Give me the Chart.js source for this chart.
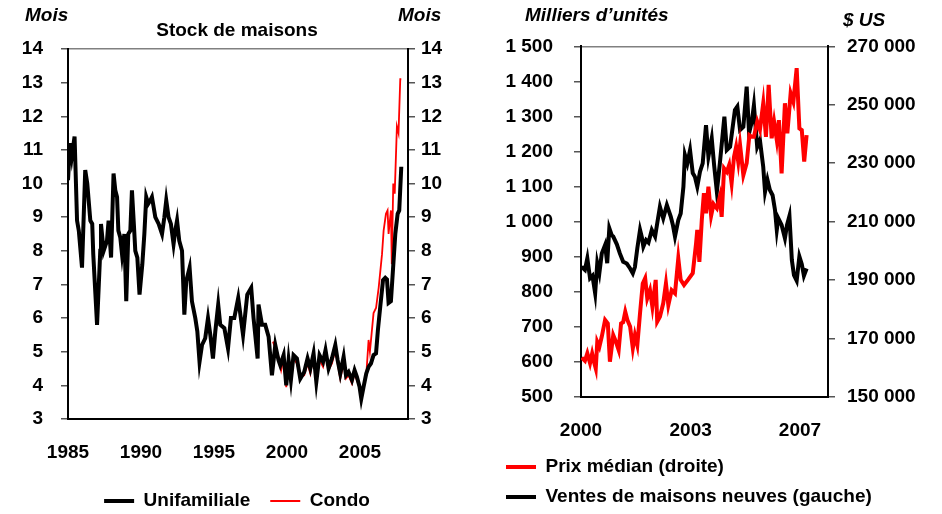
<!DOCTYPE html>
<html>
<head>
<meta charset="utf-8">
<script src="https://cdn.jsdelivr.net/npm/chart.js@4.4.0/dist/chart.umd.min.js"></script>
<style>
  body { margin: 0; background: #fff; width: 942px; height: 514px; position: relative; overflow: hidden; font-family: "Liberation Sans", Arial, sans-serif; }
  canvas { position: absolute; top: 0; }
  .unit { position: absolute; font-size: 19px; font-weight: bold; font-style: italic; color: #000; white-space: nowrap; line-height: 22px; }
</style>
</head>
<body>
<canvas id="stockChart" width="474" height="514" style="left:0"></canvas>
<canvas id="salesChart" width="468" height="514" style="left:474px"></canvas>
<div class="unit" style="left:25px; top:4px">Mois</div>
<div class="unit" style="left:398px; top:4px">Mois</div>
<div class="unit" style="left:525px; top:4px">Milliers d’unités</div>
<div class="unit" style="left:843px; top:9px">$ US</div>
<script>
// Stock de maisons (mois)
const stockYears = [1985.00, 1985.14, 1985.26, 1985.45, 1985.62, 1985.74, 1985.96, 1986.18, 1986.32, 1986.53,
  1986.66, 1986.73, 1986.99, 1987.21, 1987.26, 1987.44, 1987.67, 1987.78, 1987.95, 1988.12,
  1988.24, 1988.36, 1988.45, 1988.58, 1988.70, 1988.86, 1988.99, 1989.13, 1989.27, 1989.38,
  1989.51, 1989.61, 1989.75, 1989.90, 1990.09, 1990.23, 1990.36, 1990.50, 1990.64, 1990.75,
  1990.98, 1991.21, 1991.44, 1991.60, 1991.73, 1991.89, 1992.05, 1992.23, 1992.35, 1992.47,
  1992.62, 1992.81, 1992.97, 1993.10, 1993.33, 1993.49, 1993.72, 1993.86, 1994.01, 1994.18,
  1994.40, 1994.59, 1994.75, 1994.93, 1995.09, 1995.29, 1995.43, 1995.71, 1995.96, 1996.16,
  1996.39, 1996.66, 1996.99, 1997.28, 1997.55, 1997.71, 1997.99, 1998.05, 1998.29, 1998.51,
  1998.74, 1998.97, 1999.20, 1999.42, 1999.54, 1999.77, 1999.95, 2000.11, 2000.27, 2000.45,
  2000.68, 2000.91, 2001.18, 2001.41, 2001.60, 2001.82, 2002.01, 2002.23, 2002.47, 2002.64,
  2002.85, 2003.08, 2003.31, 2003.47, 2003.65, 2003.88, 2004.04, 2004.22, 2004.45, 2004.63,
  2004.79, 2004.97, 2005.09, 2005.25, 2005.43, 2005.59, 2005.75, 2005.93, 2006.10, 2006.23,
  2006.39, 2006.58, 2006.73, 2006.85, 2006.96, 2007.12, 2007.26, 2007.42, 2007.58, 2007.69, 2007.83];
const singleFamily = [10.1, 11.2, 10.8, 11.4, 8.9, 8.6, 7.5, 10.4, 10.0, 8.9,
  8.8, 7.9, 5.8, 8.0, 8.8, 8.0, 8.3, 8.9, 7.8, 10.3,
  9.8, 9.6, 8.6, 8.4, 7.9, 8.5, 6.5, 8.5, 8.6, 9.8,
  8.8, 8.0, 7.8, 6.7, 7.6, 8.5, 9.6, 9.4, 9.5, 9.6,
  9.0, 8.8, 8.5, 9.0, 9.5, 9.0, 8.8, 8.2, 8.6, 8.9,
  8.3, 8.0, 6.1, 7.1, 7.5, 6.5, 6.0, 5.6, 4.7, 5.2,
  5.4, 6.0, 5.5, 4.8, 5.6, 6.4, 5.8, 5.7, 5.1, 6.0,
  6.0, 6.6, 5.5, 6.7, 6.9, 6.0, 4.8, 6.4, 5.8, 5.8,
  5.45, 4.3, 5.2, 4.75, 4.6, 4.9, 4.0, 4.75, 4.16, 4.9,
  4.8, 4.2, 4.4, 4.8, 4.5, 4.95, 4.1, 4.9, 4.7, 5.05,
  4.5, 4.8, 5.2, 4.75, 4.35, 4.85, 4.3, 4.4, 4.16, 4.45,
  4.25, 3.96, 3.6, 3.96, 4.35, 4.55, 4.65, 4.9, 4.95, 5.65,
  6.34, 7.13, 7.2, 7.15, 6.45, 6.5, 7.43, 8.5, 9.1, 9.2, 10.5];
const condoYears = [1999.04, 1999.20, 1999.42, 1999.60, 1999.77, 1999.95, 2000.11, 2000.27, 2000.45, 2000.68,
  2000.91, 2001.18, 2001.41, 2001.60, 2001.82, 2002.01, 2002.23, 2002.47, 2002.64, 2002.85,
  2003.08, 2003.31, 2003.47, 2003.65, 2003.88, 2004.04, 2004.22, 2004.45, 2004.63, 2004.79,
  2004.97, 2005.09, 2005.25, 2005.43, 2005.59, 2005.68, 2005.93, 2006.10, 2006.28, 2006.51,
  2006.62, 2006.78, 2006.89, 2006.96, 2007.12, 2007.18, 2007.28, 2007.38, 2007.53, 2007.64, 2007.76, 2007.83];
const condo = [5.3, 5.1, 4.85, 4.45, 4.8, 3.95, 4.65, 4.05, 4.8, 4.65,
  4.25, 4.3, 4.65, 4.35, 4.9, 4.15, 4.75, 4.55, 4.95, 4.45,
  4.65, 5.05, 4.65, 4.2, 4.65, 4.2, 4.3, 4.05, 4.35, 4.15,
  3.95, 3.6, 4.0, 4.3, 5.35, 5.0, 6.15, 6.3, 6.9, 7.9,
  8.6, 9.1, 9.2, 8.5, 9.2, 7.6, 10.0, 9.7, 11.7, 11.5, 13.1, 13.1];
const stockTickYears = [1985, 1990, 1995, 2000, 2005];

// Ventes de maisons neuves (milliers, gauche) et prix médian ($ US, droite)
const salesYears = [2000.02, 2000.13, 2000.21, 2000.30, 2000.38, 2000.47, 2000.54, 2000.61, 2000.69, 2000.80,
  2000.87, 2000.94, 2001.02, 2001.07, 2001.19, 2001.29, 2001.40, 2001.52, 2001.63, 2001.72,
  2001.79, 2001.87, 2001.96, 2002.02, 2002.07, 2002.16, 2002.24, 2002.35, 2002.46, 2002.54,
  2002.62, 2002.73, 2002.85, 2002.98, 2003.05, 2003.12, 2003.23, 2003.31, 2003.40, 2003.45,
  2003.53, 2003.62, 2003.71, 2003.78, 2003.86, 2003.95, 2004.04, 2004.15, 2004.23, 2004.34,
  2004.42, 2004.51, 2004.61, 2004.76, 2004.84, 2004.95, 2005.11, 2005.19, 2005.28, 2005.39,
  2005.50, 2005.58, 2005.67, 2005.74, 2005.85, 2005.94, 2006.05, 2006.11, 2006.19, 2006.27,
  2006.36, 2006.44, 2006.50, 2006.55, 2006.66, 2006.77, 2006.84, 2006.92, 2007.00, 2007.07,
  2007.16, 2007.25, 2007.33, 2007.40, 2007.49];
const newHomeSales = [871, 862, 895, 838, 845, 795, 881, 853, 909, 933,
  881, 981, 961, 957, 935, 909, 885, 880, 866, 852,
  870, 924, 976, 955, 928, 947, 940, 976, 957, 1000,
  1042, 1009, 1047, 1014, 990, 957, 1004, 1023, 1099, 1190,
  1166, 1204, 1138, 1128, 1099, 1142, 1166, 1275, 1185, 1237,
  1160, 1085, 1166, 1299, 1204, 1213, 1318, 1328, 1261, 1270,
  1385, 1252, 1285, 1332, 1213, 1232, 1156, 1085, 1119, 1090,
  1075, 1033, 976, 1009, 990, 952, 990, 1016, 890, 847,
  831, 900, 878, 845, 866];
const priceYears = [2000.02, 2000.13, 2000.21, 2000.30, 2000.37, 2000.43, 2000.49, 2000.54, 2000.61, 2000.69,
  2000.80, 2000.89, 2000.96, 2001.07, 2001.16, 2001.25, 2001.33, 2001.40, 2001.47, 2001.54,
  2001.63, 2001.72, 2001.79, 2001.87, 2001.96, 2002.05, 2002.13, 2002.20, 2002.29, 2002.37,
  2002.48, 2002.53, 2002.62, 2002.73, 2002.82, 2002.90, 2003.01, 2003.12, 2003.23, 2003.31,
  2003.42, 2003.55, 2003.71, 2003.82, 2003.86, 2003.93, 2004.01, 2004.08, 2004.15, 2004.23,
  2004.32, 2004.40, 2004.51, 2004.61, 2004.67, 2004.75, 2004.84, 2004.92, 2005.00, 2005.08,
  2005.15, 2005.22, 2005.28, 2005.39, 2005.50, 2005.59, 2005.67, 2005.74, 2005.85, 2005.94,
  2006.05, 2006.14, 2006.23, 2006.33, 2006.41, 2006.50, 2006.57, 2006.66, 2006.77, 2006.85,
  2006.96, 2007.05, 2007.16, 2007.25, 2007.33, 2007.41, 2007.49];
const medianPrice = [163400, 162300, 164900, 161500, 164800, 162000, 159700, 168800, 167100, 170600,
  176300, 175100, 162000, 171100, 168800, 166000, 175100, 175500, 179100, 176300,
  174000, 166600, 171100, 167700, 178600, 188800, 190600, 183700, 186500, 180800,
  190000, 175700, 177400, 182000, 188800, 181400, 186500, 185400, 197400, 190000,
  188250, 190000, 192300, 202500, 207100, 196200, 210500, 219700, 212800, 221900,
  212000, 216000, 214500, 218500, 211600, 228200, 227000, 229400, 223100, 232200,
  235600, 230500, 236200, 225900, 230000, 239600, 239000, 239000, 244200, 241400,
  250500, 239000, 256800, 238500, 244200, 237900, 244700, 226500, 250500, 240200,
  253900, 251000, 262500, 241900, 241300, 230500, 239600];
const salesTickLabels = ['2000', '2003', '2007'];
const salesTickAt = [2000, 2003.64, 2007.27];

const FONT = '"Liberation Sans", Arial, Helvetica, sans-serif';
Chart.defaults.font.family = FONT;
Chart.defaults.font.size = 19;
Chart.defaults.font.weight = 'bold';
Chart.defaults.color = '#000';

function pairs(xs, ys) {
    return xs.map((x, i) => ({ x: x, y: ys[i] }));
}

function spaced(v) {
    return String(v).replace(/\B(?=(\d{3})+(?!\d))/g, ' ');
}

// shared look of the axes
const sideGrid = { drawOnChartArea: false, tickLength: 7, color: '#555', lineWidth: 1.5 };
const blackBorder = { color: '#000', width: 2 };
const topEdge = {
    type: 'linear', position: 'top',
    ticks: { display: false },
    grid: { drawOnChartArea: false, drawTicks: false },
    border: { color: '#808080', width: 1.5 }
};
const legendLabels = (padding) => ({
    usePointStyle: true, pointStyle: 'line', pointStyleWidth: 30,
    padding: padding, color: '#000',
    font: { size: 19, weight: 'bold', family: FONT }
});

new Chart(document.getElementById('stockChart'), {
    type: 'line',
    data: {
        datasets: [
            { label: 'Unifamiliale', data: pairs(stockYears, singleFamily), borderColor: '#000', borderWidth: 4,
              pointRadius: 0, tension: 0, yAxisID: 'y' },
            { label: 'Condo', data: pairs(condoYears, condo), borderColor: '#ff0000', borderWidth: 1.8,
              pointRadius: 0, tension: 0, yAxisID: 'y' }
        ]
    },
    options: {
        responsive: false,
        animation: false,
        layout: { padding: { left: 0, right: 0, top: 0, bottom: -6.5 } },
        plugins: {
            title: { display: true, text: 'Stock de maisons', color: '#000',
                     font: { size: 19, weight: 'bold' }, padding: { top: 19.5, bottom: 6.7 } },
            legend: { position: 'bottom', labels: legendLabels(20) },
            tooltip: { enabled: false }
        },
        scales: {
            x: {
                type: 'linear', min: 1985, max: 2008.29,
                afterBuildTicks: (axis) => { axis.ticks = stockTickYears.map(v => ({ value: v })); },
                afterFit: (axis) => { axis.height = 52.5; },
                ticks: { padding: 22.6, maxRotation: 0, autoSkip: false, callback: (v) => String(v) },
                grid: { drawOnChartArea: false, drawTicks: false },
                border: blackBorder
            },
            xTop: topEdge,
            y: {
                position: 'left', min: 3, max: 14,
                afterFit: (axis) => { axis.width = 68; },
                ticks: { stepSize: 1, padding: 18 },
                grid: sideGrid, border: blackBorder
            },
            yRight: {
                position: 'right', min: 3, max: 14,
                afterFit: (axis) => { axis.width = 66; },
                ticks: { stepSize: 1, padding: 6 },
                grid: sideGrid, border: blackBorder
            }
        }
    }
});

new Chart(document.getElementById('salesChart'), {
    type: 'line',
    data: {
        datasets: [
            { label: 'Prix médian (droite)', data: pairs(priceYears, medianPrice), borderColor: '#ff0000', borderWidth: 4,
              pointRadius: 0, tension: 0, yAxisID: 'y2' },
            { label: 'Ventes de maisons neuves (gauche)', data: pairs(salesYears, newHomeSales), borderColor: '#000', borderWidth: 4,
              pointRadius: 0, tension: 0, yAxisID: 'y' }
        ]
    },
    options: {
        responsive: false,
        animation: false,
        layout: { padding: { left: 21, right: 0, top: 46.3, bottom: -2.5 } },
        plugins: {
            legend: { position: 'bottom', align: 'start', labels: legendLabels(11) },
            tooltip: { enabled: false }
        },
        scales: {
            x: {
                type: 'linear', min: 2000, max: 2008.2,
                afterBuildTicks: (axis) => { axis.ticks = salesTickAt.map(v => ({ value: v })); },
                afterFit: (axis) => { axis.height = 49.8; },
                ticks: { padding: 22.9, maxRotation: 0, autoSkip: false, callback: (v, i) => salesTickLabels[i] },
                grid: { drawOnChartArea: false, drawTicks: false },
                border: blackBorder
            },
            xTop: topEdge,
            y: {
                position: 'left', min: 500, max: 1500,
                afterFit: (axis) => { axis.width = 86; },
                ticks: { stepSize: 100, padding: 21, callback: (v) => spaced(v) },
                grid: sideGrid, border: blackBorder
            },
            y2: {
                position: 'right', min: 150000, max: 270000,
                afterFit: (axis) => { axis.width = 114; },
                ticks: { stepSize: 20000, padding: 12, callback: (v) => spaced(v) },
                grid: sideGrid, border: blackBorder
            }
        }
    }
});
</script>
</body>
</html>
